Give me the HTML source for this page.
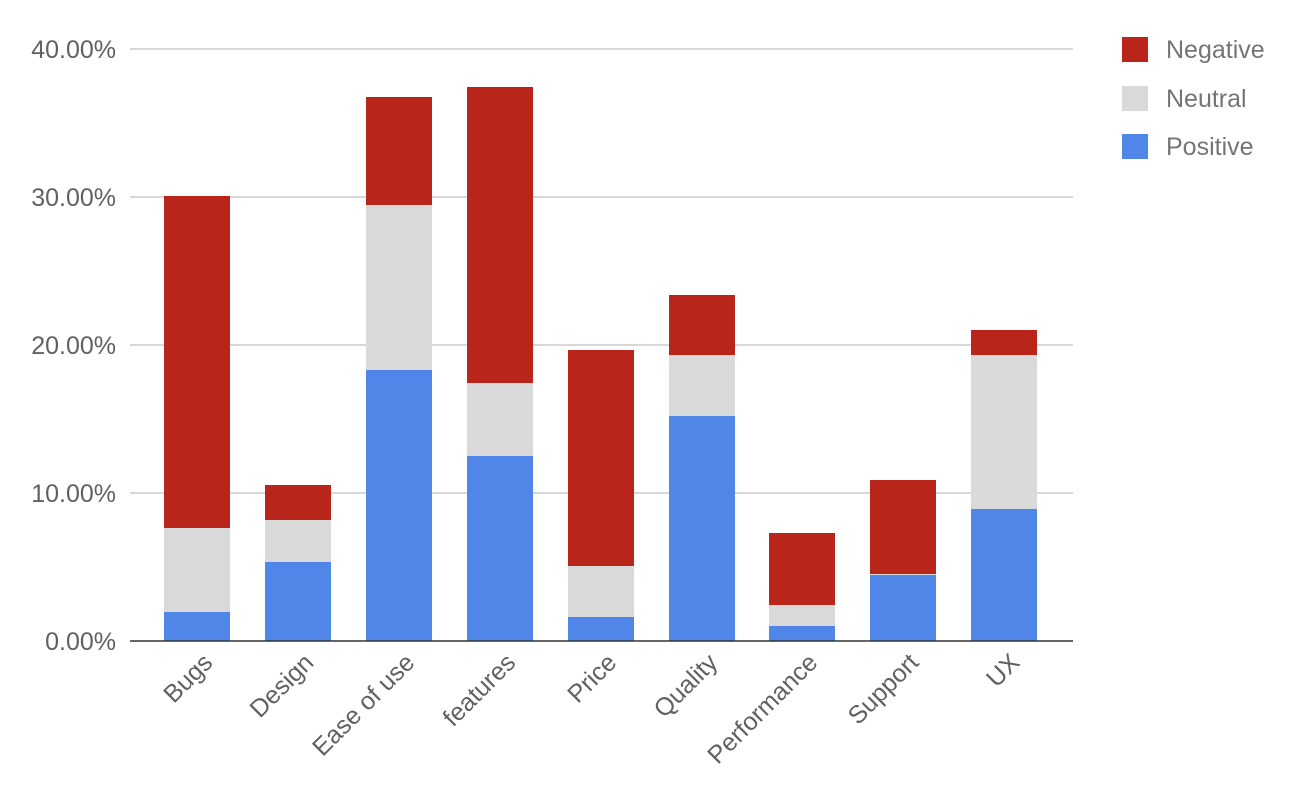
<!DOCTYPE html>
<html><head><meta charset="utf-8"><style>
html,body{margin:0;padding:0;background:#fff;}
svg{display:block;font-family:"Liberation Sans",Arial,sans-serif;}
</style></head><body>
<svg width="1300" height="794" viewBox="0 0 1300 794" xmlns="http://www.w3.org/2000/svg">
<g stroke="#cccccc" stroke-width="1.5">
<line x1="130" y1="49" x2="1073" y2="49"/>
<line x1="130" y1="197" x2="1073" y2="197"/>
<line x1="130" y1="345" x2="1073" y2="345"/>
<line x1="130" y1="493" x2="1073" y2="493"/>
</g>
<g font-size="25" fill="#616161" text-anchor="end">
<text x="116" y="58">40.00%</text>
<text x="116" y="206">30.00%</text>
<text x="116" y="354">20.00%</text>
<text x="116" y="502">10.00%</text>
<text x="116" y="650">0.00%</text>
</g>
<g>
<rect x="164" y="196" width="66" height="332" fill="#b9251b"/>
<rect x="164" y="528" width="66" height="84" fill="#d9d9d9"/>
<rect x="164" y="612" width="66" height="29" fill="#5086e8"/>
<rect x="265" y="485" width="66" height="35" fill="#b9251b"/>
<rect x="265" y="520" width="66" height="42" fill="#d9d9d9"/>
<rect x="265" y="562" width="66" height="79" fill="#5086e8"/>
<rect x="366" y="97" width="66" height="108" fill="#b9251b"/>
<rect x="366" y="205" width="66" height="165" fill="#d9d9d9"/>
<rect x="366" y="370" width="66" height="271" fill="#5086e8"/>
<rect x="467" y="87" width="66" height="296" fill="#b9251b"/>
<rect x="467" y="383" width="66" height="73" fill="#d9d9d9"/>
<rect x="467" y="456" width="66" height="185" fill="#5086e8"/>
<rect x="568" y="350" width="66" height="216" fill="#b9251b"/>
<rect x="568" y="566" width="66" height="51" fill="#d9d9d9"/>
<rect x="568" y="617" width="66" height="24" fill="#5086e8"/>
<rect x="669" y="295" width="66" height="60" fill="#b9251b"/>
<rect x="669" y="355" width="66" height="61" fill="#d9d9d9"/>
<rect x="669" y="416" width="66" height="225" fill="#5086e8"/>
<rect x="769" y="533" width="66" height="72" fill="#b9251b"/>
<rect x="769" y="605" width="66" height="21" fill="#d9d9d9"/>
<rect x="769" y="626" width="66" height="15" fill="#5086e8"/>
<rect x="870" y="480" width="66" height="94" fill="#b9251b"/>
<rect x="870" y="574" width="66" height="1" fill="#d9d9d9"/>
<rect x="870" y="575" width="66" height="66" fill="#5086e8"/>
<rect x="971" y="330" width="66" height="25" fill="#b9251b"/>
<rect x="971" y="355" width="66" height="154" fill="#d9d9d9"/>
<rect x="971" y="509" width="66" height="132" fill="#5086e8"/>
</g>
<line x1="130" y1="641" x2="1073" y2="641" stroke="#333" stroke-width="1.5"/>
<g font-size="25" fill="#616161" text-anchor="end">
<text transform="translate(214,664) rotate(-45)">Bugs</text>
<text transform="translate(315,664) rotate(-45)">Design</text>
<text transform="translate(416,664) rotate(-45)">Ease of use</text>
<text transform="translate(517,664) rotate(-45)">features</text>
<text transform="translate(618,664) rotate(-45)">Price</text>
<text transform="translate(719,664) rotate(-45)">Quality</text>
<text transform="translate(819,664) rotate(-45)">Performance</text>
<text transform="translate(920,664) rotate(-45)">Support</text>
<text transform="translate(1021,664) rotate(-45)">UX</text>
</g>
<rect x="1122" y="37" width="26" height="25" fill="#b9251b"/>
<rect x="1122" y="86" width="26" height="25" fill="#d9d9d9"/>
<rect x="1122" y="134" width="26" height="25" fill="#5086e8"/>
<g font-size="25" fill="#757575">
<text x="1166" y="58">Negative</text>
<text x="1166" y="107">Neutral</text>
<text x="1166" y="155">Positive</text>
</g>
</svg>
</body></html>
